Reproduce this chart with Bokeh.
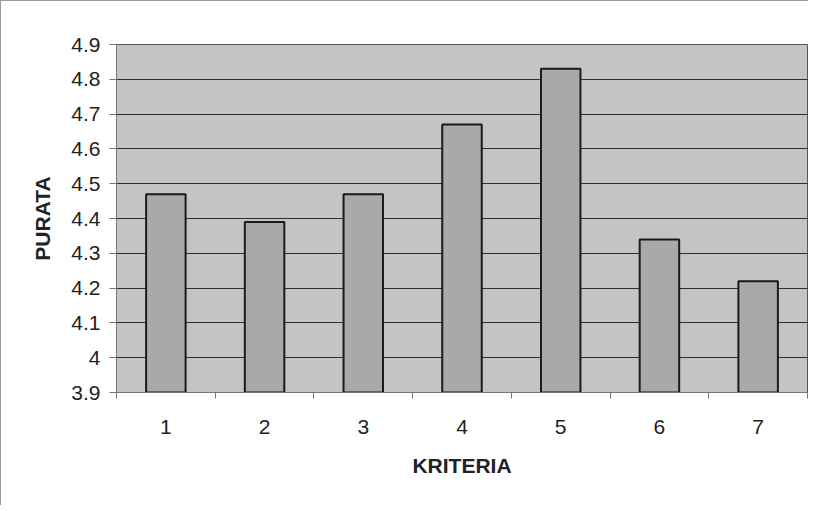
from bokeh.plotting import figure
from bokeh.models import FixedTicker, Range1d, ColumnDataSource
from bokeh.embed import file_html
from bokeh.resources import INLINE

criteria = [1, 2, 3, 4, 5, 6, 7]
purata = [4.47, 4.39, 4.47, 4.67, 4.83, 4.34, 4.22]
y_ticks = [3.9, 4.0, 4.1, 4.2, 4.3, 4.4, 4.5, 4.6, 4.7, 4.8, 4.9]
y_tick_labels = {3.9: "3.9", 4.0: "4", 4.1: "4.1", 4.2: "4.2", 4.3: "4.3", 4.4: "4.4",
                 4.5: "4.5", 4.6: "4.6", 4.7: "4.7", 4.8: "4.8", 4.9: "4.9"}
y_min, y_max = 3.9, 4.9

src = ColumnDataSource(data=dict(x=criteria, top=purata))

p = figure(width=808, height=505, output_backend="svg", toolbar_location=None,
           x_range=Range1d(0.5, 7.5), y_range=Range1d(y_min, y_max),
           min_border_left=115, min_border_top=43, min_border_right=2, min_border_bottom=114)

p.background_fill_color = "#c4c4c4"
p.border_fill_color = "white"
p.outline_line_color = "#555555"
p.outline_line_width = 1
p.styles = {"border-left": "1px solid #999999", "border-top": "1px solid #999999"}

p.vbar(x="x", top="top", bottom=y_min, width=0.4, source=src,
       fill_color="#a9a9a9", line_color="#1a1a1a", line_width=2)

# axes
p.xaxis.ticker = FixedTicker(ticks=criteria, minor_ticks=[c - 0.5 for c in criteria] + [7.5])
p.xaxis.major_tick_out = 0
p.xaxis.major_tick_in = 0
p.xaxis.minor_tick_out = 6
p.xaxis.minor_tick_in = 0
p.xaxis.minor_tick_line_color = "#777777"
p.xaxis.major_label_standoff = 21
p.xaxis.axis_label = "KRITERIA"
p.xaxis.axis_label_standoff = 17

p.yaxis.ticker = FixedTicker(ticks=y_ticks)
p.yaxis.major_label_overrides = y_tick_labels
p.yaxis.major_tick_out = 7
p.yaxis.major_tick_in = 0
p.yaxis.minor_tick_out = 0
p.yaxis.minor_tick_in = 0
p.yaxis.major_tick_line_color = "#777777"
p.yaxis.major_label_standoff = 9
p.yaxis.axis_label = "PURATA"
p.yaxis.axis_label_standoff = 14

for ax in (p.xaxis[0], p.yaxis[0]):
    ax.axis_line_color = "#777777"
    ax.major_label_text_font = "Liberation Sans"
    ax.major_label_text_font_size = "21px"
    ax.major_label_text_color = "#222222"
    ax.axis_label_text_font = "Liberation Sans"
    ax.axis_label_text_font_size = "21px"
    ax.axis_label_text_font_style = "bold"
    ax.axis_label_text_color = "#222222"

p.xgrid.grid_line_color = None
p.ygrid.ticker = FixedTicker(ticks=y_ticks)
p.ygrid.grid_line_color = "#2e2e2e"
p.ygrid.grid_line_width = 1

open("out.html", "w").write(file_html(p, INLINE))
